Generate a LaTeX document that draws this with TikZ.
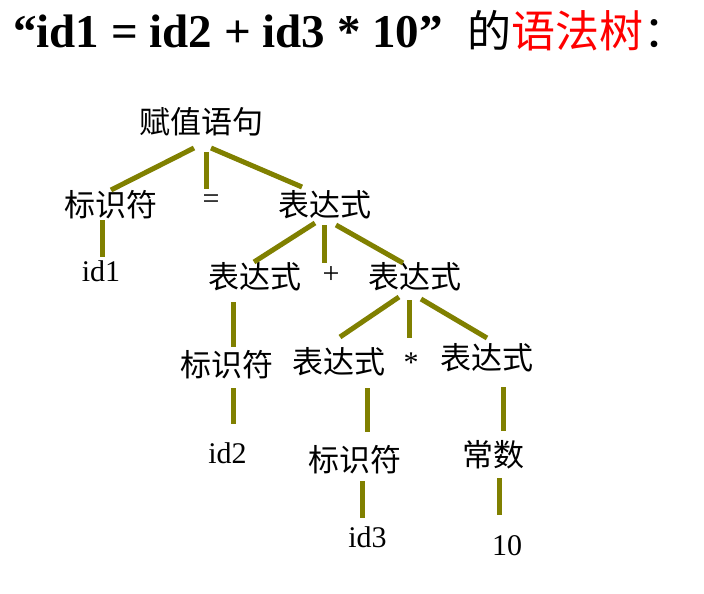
\documentclass[tikz,border=0pt]{standalone}
\usepackage{fontspec}
\setmainfont{Liberation Serif}
\newfontfamily\cjk{Noto Sans CJK SC}
\definecolor{treeolive}{RGB}{128,128,0}
\begin{document}
\begin{tikzpicture}[x=1pt,y=-1pt,
  cn/.style={inner sep=0pt,anchor=center,font=\cjk\fontsize{31}{31}\selectfont},
  ln/.style={inner sep=0pt,anchor=base,font=\fontsize{30}{30}\selectfont},
  edge/.style={draw=treeolive,line width=5pt}]
\useasboundingbox[fill=white] (0,0) rectangle (704,594);
% title
\node[inner sep=0pt,anchor=base west,font=\bfseries\fontsize{47}{47}\selectfont] (title) at (13,48) {“id1 = id2 + id3 * 10”};
\node[inner sep=0pt,anchor=base west,font=\cjk\fontsize{44}{44}\selectfont] (titlecn) at (467,48) {的\textcolor{red}{语法树}：};
% nodes
\node[cn] (A) at (201,122) {赋值语句};
\node[cn] (B) at (111,205) {标识符};
\node[ln] (eq) at (211,208) {=};
\node[cn] (E1) at (325,205) {表达式};
\node[ln] (id1) at (101,281) {id1};
\node[cn] (E2) at (255,277) {表达式};
\node[ln] (plus) at (331,283) {+};
\node[cn] (E3) at (415,277) {表达式};
\node[cn] (C) at (227,365) {标识符};
\node[cn] (E4) at (339,362) {表达式};
\node[ln] (star) at (411,372) {*};
\node[cn] (E5) at (487,358) {表达式};
\node[ln] (id2) at (227.5,463) {id2};
\node[cn] (D) at (355,460) {标识符};
\node[cn] (K) at (493,455) {常数};
\node[ln] (id3) at (367.5,547) {id3};
\node[ln] (ten) at (507,555) {10};
% edges
\draw[edge] ([shift={(-7,26)}]A.center) -- ([shift={(0,-15)}]B.center);
\draw[edge] ([shift={(5,30)}]A.center) -- ([shift={(-5,-19)}]eq.base);
\draw[edge] ([shift={(10,26)}]A.center) -- ([shift={(-23,-18)}]E1.center);
\draw[edge] ([shift={(-9,15)}]B.center) -- ([shift={(1,-24)}]id1.base);
\draw[edge] ([shift={(-10,18)}]E1.center) -- ([shift={(-1,-15)}]E2.center);
\draw[edge] ([shift={(-1,20)}]E1.center) -- ([shift={(-7,-20)}]plus.base);
\draw[edge] ([shift={(11,20)}]E1.center) -- ([shift={(-12,-14)}]E3.center);
\draw[edge] ([shift={(-22,25)}]E2.center) -- ([shift={(6,-18)}]C.center);
\draw[edge] ([shift={(-16,20)}]E3.center) -- ([shift={(1,-25)}]E4.center);
\draw[edge] ([shift={(-6,23)}]E3.center) -- ([shift={(-2,-34)}]star.base);
\draw[edge] ([shift={(6,22)}]E3.center) -- ([shift={(0,-20)}]E5.center);
\draw[edge] ([shift={(6,23)}]C.center) -- ([shift={(5.5,-39)}]id2.base);
\draw[edge] ([shift={(28,26)}]E4.center) -- ([shift={(12,-28)}]D.center);
\draw[edge] ([shift={(16,29)}]E5.center) -- ([shift={(10,-24)}]K.center);
\draw[edge] ([shift={(7,21)}]D.center) -- ([shift={(-5.5,-29)}]id3.base);
\draw[edge] ([shift={(6,23)}]K.center) -- ([shift={(-8,-40)}]ten.base);
\end{tikzpicture}
\end{document}
